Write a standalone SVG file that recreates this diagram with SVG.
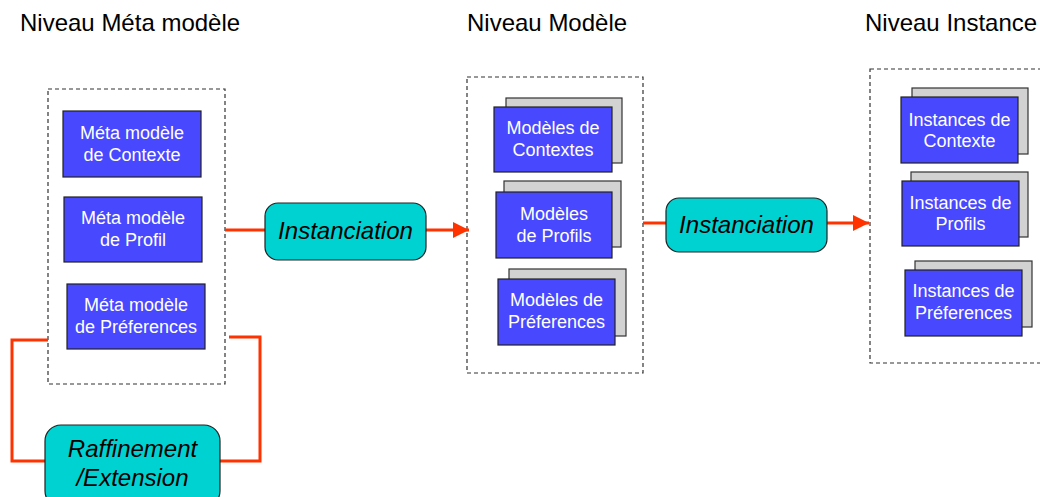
<svg xmlns="http://www.w3.org/2000/svg" width="1040" height="497" viewBox="0 0 1040 497">
<style>
.title{font-family:"Liberation Sans",Arial,sans-serif;font-size:24px;fill:#000}
.bt{font-family:"Liberation Sans",Arial,sans-serif;font-size:18px;fill:#fff;text-anchor:middle}
.pt{font-family:"Liberation Sans",Arial,sans-serif;font-size:24px;font-style:italic;fill:#000;text-anchor:middle}
.blue{fill:#4848FF;stroke:#222;stroke-width:1.2}
.gray{fill:#D2D2D2;stroke:#333;stroke-width:1.2}
.proc{fill:#00D2D2;stroke:#222;stroke-width:1.2}
.dash{fill:none;stroke:#333;stroke-width:1.2;stroke-dasharray:4,3}
.red{fill:none;stroke:#FF3300;stroke-width:3}
</style>
<defs>
<marker id="ah" markerUnits="userSpaceOnUse" markerWidth="17" markerHeight="17" refX="16" refY="8" orient="auto">
<polygon points="0,0 16,8 0,16" fill="#FF3300"/>
</marker>
</defs>
<rect width="1040" height="497" fill="#fff"/>
<g id="titles">
<text class="title" x="20" y="31">Niveau Méta modèle</text>
<text class="title" x="467" y="31">Niveau Modèle</text>
<text class="title" x="865" y="31">Niveau Instance</text>
</g>
<g id="containers">
<rect class="dash" x="48" y="89" width="177" height="295"/>
<rect class="dash" x="467" y="77" width="176" height="296"/>
<rect class="dash" x="870" y="69" width="180" height="294"/>
</g>
<g id="connectors">
<path class="red" d="M225,230 H265"/>
<path class="red" d="M426,230 H469" marker-end="url(#ah)"/>
<path class="red" d="M643,223 H666"/>
<path class="red" d="M827,223 H869" marker-end="url(#ah)"/>
<path class="red" d="M48,340 H12 V461 H45"/>
<path class="red" d="M229,337 H260 V461 H220"/>
</g>
<g id="meta-contexte">
<rect class="blue" x="63" y="111" width="138" height="66"/>
<text class="bt" x="132" y="139">Méta modèle</text>
<text class="bt" x="132" y="161">de Contexte</text>
</g>
<g id="meta-profil">
<rect class="blue" x="64" y="197" width="138" height="65"/>
<text class="bt" x="133" y="224">Méta modèle</text>
<text class="bt" x="133" y="246">de Profil</text>
</g>
<g id="meta-preferences">
<rect class="blue" x="67" y="284" width="138" height="65"/>
<text class="bt" x="136" y="311">Méta modèle</text>
<text class="bt" x="136" y="333">de Préferences</text>
</g>
<g id="instanciation1">
<rect class="proc" x="265" y="203" width="161" height="57" rx="13"/>
<text class="pt" x="345.5" y="239">Instanciation</text>
</g>
<g id="raffinement">
<rect class="proc" x="45" y="425" width="175" height="82" rx="16"/>
<text class="pt" x="132.5" y="457">Raffinement</text>
<text class="pt" x="132.5" y="486">/Extension</text>
</g>
<g id="modeles-contextes">
<rect class="gray" x="506" y="98" width="116" height="65"/>
<rect class="blue" x="494" y="107" width="118" height="65"/>
<text class="bt" x="553" y="134">Modèles de</text>
<text class="bt" x="553" y="156">Contextes</text>
</g>
<g id="modeles-profils">
<rect class="gray" x="504" y="181" width="117" height="66"/>
<rect class="blue" x="496" y="192" width="116" height="66"/>
<text class="bt" x="554" y="220">Modèles</text>
<text class="bt" x="554" y="242">de Profils</text>
</g>
<g id="modeles-preferences">
<rect class="gray" x="509" y="269" width="117" height="67"/>
<rect class="blue" x="498" y="279" width="117" height="66"/>
<text class="bt" x="556.5" y="306">Modèles de</text>
<text class="bt" x="556.5" y="328">Préferences</text>
</g>
<g id="instanciation2">
<rect class="proc" x="666" y="198" width="161" height="54" rx="13"/>
<text class="pt" x="746.5" y="233">Instanciation</text>
</g>
<g id="instances-contexte">
<rect class="gray" x="912" y="88" width="116" height="66"/>
<rect class="blue" x="901" y="97" width="117" height="66"/>
<text class="bt" x="959.5" y="126">Instances de</text>
<text class="bt" x="959.5" y="147">Contexte</text>
</g>
<g id="instances-profils">
<rect class="gray" x="911" y="172" width="117" height="65"/>
<rect class="blue" x="902" y="181" width="117" height="65"/>
<text class="bt" x="960.5" y="209">Instances de</text>
<text class="bt" x="960.5" y="230">Profils</text>
</g>
<g id="instances-preferences">
<rect class="gray" x="915" y="261" width="117" height="66"/>
<rect class="blue" x="905" y="270" width="117" height="66"/>
<text class="bt" x="963.5" y="297">Instances de</text>
<text class="bt" x="963.5" y="319">Préferences</text>
</g>
</svg>
